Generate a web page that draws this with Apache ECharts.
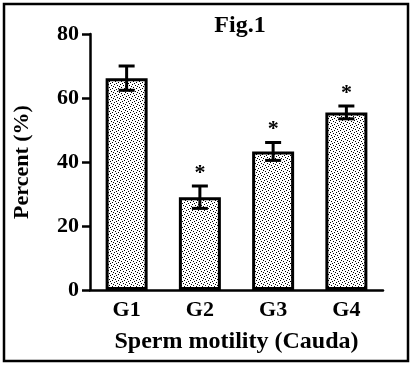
<!DOCTYPE html>
<html>
<head>
<meta charset="utf-8">
<script src="https://cdn.jsdelivr.net/npm/echarts@6/dist/echarts.min.js"></script>
<style>
html,body{margin:0;padding:0;background:#fff;}
#chart{width:413px;height:366px;}
</style>
</head>
<body>
<div id="chart"></div>
<script>
const categories = ['G1', 'G2', 'G3', 'G4'];
const means = [66.2, 29.0, 43.3, 55.5];
const errors = [3.8, 3.5, 2.8, 2.0];
const marks = ['', '*', '*', '*'];
const yTicks = [0, 20, 40, 60, 80];

// stipple pattern for bar fill
function makePattern() {
  const c = document.createElement('canvas');
  c.width = 6; c.height = 6;
  const g = c.getContext('2d');
  g.fillStyle = '#ffffff';
  g.fillRect(0, 0, 6, 6);
  g.fillStyle = '#000000';
  [[0,0],[3,1],[1,3],[4,4],[2,5],[5,2]].forEach(p => g.fillRect(p[0], p[1], 1, 1));
  return c;
}

const FONT = 'Liberation Serif';
const chart = echarts.init(document.getElementById('chart'), null, {renderer: 'canvas'});

const option = {
  animation: false,
  backgroundColor: '#ffffff',
  title: {
    text: 'Fig.1',
    left: 235, top: 9, textAlign: 'center',
    textStyle: {fontFamily: FONT, fontWeight: 'bold', fontSize: 24, color: '#000'}
  },
  grid: {left: 90, right: 30, top: 34, bottom: 76},
  xAxis: {
    type: 'category',
    data: categories,
    name: 'Sperm motility (Cauda)',
    nameLocation: 'middle',
    nameGap: 40,
    nameTextStyle: {fontFamily: FONT, fontWeight: 'bold', fontSize: 24, color: '#000'},
    axisLine: {lineStyle: {color: '#000', width: 2.5}},
    axisTick: {alignWithLabel: true, length: 8, lineStyle: {color: '#000', width: 2.5}},
    axisLabel: {fontFamily: FONT, fontWeight: 'bold', fontSize: 22, color: '#000', margin: 9}
  },
  yAxis: {
    type: 'value',
    min: 0, max: 80, interval: 20,
    name: 'Percent (%)',
    nameLocation: 'middle',
    nameGap: 57,
    nameTextStyle: {fontFamily: FONT, fontWeight: 'bold', fontSize: 22, color: '#000'},
    axisLine: {show: true, lineStyle: {color: '#000', width: 2.5}},
    axisTick: {show: true, length: 8, lineStyle: {color: '#000', width: 2.5}},
    axisLabel: {fontFamily: FONT, fontWeight: 'bold', fontSize: 22, color: '#000', margin: 11,
      formatter: v => yTicks.indexOf(v) >= 0 ? String(v) : ''},
    splitLine: {show: false}
  },
  series: [
    {
      type: 'bar',
      data: means,
      barWidth: 42,
      itemStyle: {
        color: {image: makePattern(), repeat: 'repeat'},
        borderColor: '#000',
        borderWidth: 3
      },
      z: 2
    },
    {
      type: 'custom',
      data: categories.map((c, i) => [i, means[i], errors[i], marks[i]]),
      renderItem: function (params, api) {
        const x = api.value(0);
        const m = api.value(1);
        const e = api.value(2);
        const top = api.coord([x, m + e]);
        const bot = api.coord([x, m - e]);
        const cap = 8;
        const style = {stroke: '#000', lineWidth: 3};
        const children = [
          {type: 'line', shape: {x1: top[0], y1: top[1], x2: bot[0], y2: bot[1]}, style: style},
          {type: 'line', shape: {x1: top[0] - cap, y1: top[1], x2: top[0] + cap, y2: top[1]}, style: style},
          {type: 'line', shape: {x1: bot[0] - cap, y1: bot[1], x2: bot[0] + cap, y2: bot[1]}, style: style}
        ];
        const mk = marks[params.dataIndex];
        if (mk) {
          children.push({
            type: 'text',
            style: {
              text: mk, x: top[0], y: top[1] - 2,
              align: 'center', verticalAlign: 'bottom',
              font: 'bold 22px "Liberation Serif"', fill: '#000'
            }
          });
        }
        return {type: 'group', children: children};
      },
      z: 5
    }
  ],
  graphic: [
    {
      type: 'rect',
      shape: {x: 4, y: 4, width: 404, height: 357},
      style: {fill: 'none', stroke: '#000', lineWidth: 2.5},
      silent: true
    }
  ]
};
chart.setOption(option);
</script>
</body>
</html>
